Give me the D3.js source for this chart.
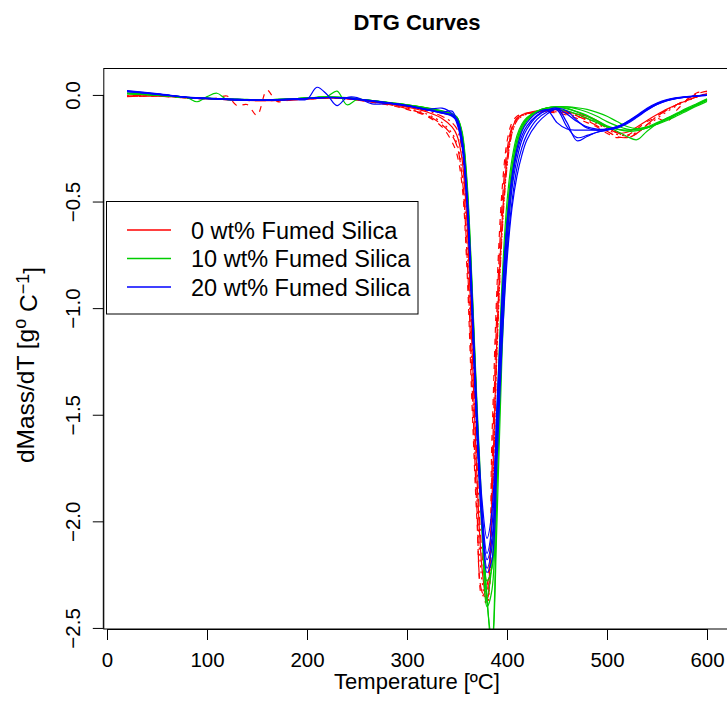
<!DOCTYPE html>
<html>
<head>
<meta charset="utf-8">
<script src="https://d3js.org/d3.v7.min.js"></script>
<style>
body { margin: 0; background: #fff; }
text { font-family: "Liberation Sans", Arial, Helvetica, sans-serif; fill: #000; }
</style>
</head>
<body>
<div id="dtg"></div>
<script>
// temperature grid shared by every run [deg C]
var temps = [20, 50, 80, 90, 100, 110, 120, 130, 140, 150,
    160, 170, 185, 200, 210, 220, 230, 240, 250, 265,
    285, 300, 320, 335, 345, 350, 355, 360, 365, 370,
    375, 380, 385, 390, 395, 400, 405, 410, 415, 420,
    430, 440, 450, 460, 470, 480, 490, 500, 510, 520,
    530, 540, 550, 560, 570, 580, 590, 600];

// 0 wt% fumed silica
var red1 = [-0.005, -0.005, -0.014, -0.016, -0.018, -0.020, -0.022, -0.024, -0.026, -0.027,
    -0.027, -0.026, -0.023, -0.019, -0.016, -0.014, -0.015, -0.018, -0.023, -0.032,
    -0.045, -0.057, -0.080, -0.110, -0.150, -0.190, -0.30, -0.60, -1.18, -1.80,
    -2.22, -2.38, -1.90, -1.12, -0.60, -0.30, -0.16, -0.11, -0.093, -0.085,
    -0.075, -0.070, -0.070, -0.078, -0.090, -0.10, -0.12, -0.15, -0.178, -0.175,
    -0.15, -0.12, -0.092, -0.066, -0.045, -0.026, -0.008, 0.006];
var red2 = [-0.008, -0.006, -0.015, -0.017, -0.019, -0.015, -0.005, -0.050, -0.045, -0.095,
    0.022, -0.030, -0.022, -0.020, -0.017, -0.015, -0.016, -0.019, -0.024, -0.034,
    -0.050, -0.068, -0.10, -0.15, -0.22, -0.28, -0.42, -0.82, -1.45, -2.00,
    -2.35, -2.30, -1.60, -0.90, -0.45, -0.22, -0.13, -0.10, -0.09, -0.085,
    -0.08, -0.08, -0.085, -0.095, -0.11, -0.13, -0.15, -0.18, -0.20, -0.19,
    -0.16, -0.125, -0.11, -0.125, -0.07, -0.025, 0.010, 0.015];
var red3 = [-0.006, -0.004, -0.013, -0.015, -0.017, -0.019, -0.021, -0.023, -0.025, -0.026,
    -0.026, -0.025, -0.022, -0.018, -0.015, -0.013, -0.014, -0.017, -0.022, -0.031,
    -0.046, -0.062, -0.09, -0.13, -0.18, -0.23, -0.36, -0.70, -1.30, -1.90,
    -2.28, -2.40, -1.95, -1.20, -0.65, -0.33, -0.18, -0.12, -0.10, -0.09,
    -0.082, -0.078, -0.08, -0.088, -0.10, -0.115, -0.135, -0.16, -0.185, -0.19,
    -0.175, -0.145, -0.11, -0.078, -0.05, -0.028, -0.010, 0.004];
var red4 = [-0.004, -0.003, -0.012, -0.014, -0.016, -0.018, -0.020, -0.022, -0.024, -0.025,
    -0.025, -0.024, -0.021, -0.017, -0.014, -0.012, -0.013, -0.016, -0.021, -0.030,
    -0.043, -0.055, -0.075, -0.10, -0.13, -0.16, -0.26, -0.55, -1.10, -1.72,
    -2.15, -2.32, -1.95, -1.20, -0.66, -0.34, -0.18, -0.12, -0.098, -0.088,
    -0.078, -0.072, -0.074, -0.082, -0.095, -0.11, -0.13, -0.155, -0.175, -0.20,
    -0.18, -0.14, -0.10, -0.07, -0.045, -0.025, -0.008, 0.008];
var red5 = [-0.007, -0.005, -0.014, -0.016, -0.018, -0.020, -0.022, -0.024, -0.026, -0.027,
    -0.027, -0.026, -0.023, -0.019, -0.016, -0.014, -0.015, -0.018, -0.023, -0.033,
    -0.048, -0.065, -0.095, -0.14, -0.19, -0.24, -0.38, -0.75, -1.35, -1.95,
    -2.33, -2.36, -1.75, -1.00, -0.52, -0.26, -0.15, -0.11, -0.095, -0.088,
    -0.08, -0.076, -0.078, -0.085, -0.098, -0.12, -0.145, -0.17, -0.195, -0.20,
    -0.18, -0.14, -0.10, -0.07, -0.045, -0.02, 0.005, 0.018];

// 10 wt% fumed silica
var green1 = [0.008, 0.000, -0.013, -0.032, -0.008, 0.008, -0.022, -0.022, -0.023, -0.024,
    -0.024, -0.022, -0.019, -0.015, -0.012, -0.010, -0.011, -0.014, -0.019, -0.027,
    -0.038, -0.047, -0.062, -0.078, -0.092, -0.108, -0.18, -0.42, -0.90, -1.48,
    -2.00, -2.35, -2.62, -2.00, -1.22, -0.72, -0.42, -0.25, -0.165, -0.12,
    -0.08, -0.062, -0.055, -0.056, -0.065, -0.08, -0.10, -0.125, -0.145, -0.16,
    -0.165, -0.155, -0.135, -0.112, -0.09, -0.068, -0.045, -0.022];
var green2 = [0.006, -0.001, -0.012, -0.014, -0.016, -0.018, -0.019, -0.021, -0.022, -0.023,
    -0.023, -0.021, -0.018, -0.014, -0.011, -0.008, 0.018, -0.046, -0.022, -0.028,
    -0.038, -0.047, -0.062, -0.076, -0.090, -0.105, -0.17, -0.40, -0.88, -1.45,
    -1.95, -2.38, -2.55, -1.85, -1.15, -0.65, -0.38, -0.23, -0.155, -0.115,
    -0.078, -0.060, -0.056, -0.062, -0.080, -0.10, -0.125, -0.15, -0.17, -0.195,
    -0.21, -0.17, -0.135, -0.11, -0.088, -0.066, -0.044, -0.020];
var green3 = [0.005, -0.002, -0.013, -0.015, -0.017, -0.019, -0.020, -0.022, -0.023, -0.024,
    -0.024, -0.022, -0.019, -0.015, -0.012, -0.010, -0.011, -0.014, -0.019, -0.027,
    -0.038, -0.048, -0.063, -0.079, -0.093, -0.110, -0.19, -0.45, -0.95, -1.52,
    -2.02, -2.40, -2.32, -1.65, -1.00, -0.58, -0.34, -0.21, -0.145, -0.11,
    -0.078, -0.068, -0.068, -0.075, -0.090, -0.11, -0.13, -0.15, -0.16, -0.165,
    -0.16, -0.15, -0.13, -0.108, -0.085, -0.062, -0.040, -0.018];
var green4 = [0.007, 0.000, -0.012, -0.014, -0.016, -0.018, -0.020, -0.021, -0.022, -0.023,
    -0.023, -0.022, -0.019, -0.015, -0.012, -0.010, -0.011, -0.014, -0.019, -0.027,
    -0.039, -0.048, -0.064, -0.080, -0.094, -0.110, -0.20, -0.48, -0.98, -1.56,
    -2.05, -2.35, -2.20, -1.50, -0.88, -0.50, -0.30, -0.19, -0.135, -0.105,
    -0.075, -0.062, -0.060, -0.065, -0.078, -0.095, -0.12, -0.145, -0.16, -0.17,
    -0.168, -0.155, -0.135, -0.115, -0.092, -0.070, -0.047, -0.025];
var green5 = [0.009, 0.001, -0.011, -0.013, -0.015, -0.017, -0.019, -0.020, -0.021, -0.022,
    -0.022, -0.021, -0.018, -0.014, -0.011, -0.009, -0.010, -0.013, -0.018, -0.026,
    -0.037, -0.046, -0.061, -0.075, -0.088, -0.104, -0.18, -0.44, -0.93, -1.50,
    -1.98, -2.28, -2.22, -1.60, -0.98, -0.57, -0.34, -0.21, -0.145, -0.11,
    -0.077, -0.061, -0.056, -0.056, -0.060, -0.068, -0.082, -0.10, -0.125, -0.148,
    -0.158, -0.152, -0.138, -0.12, -0.098, -0.075, -0.052, -0.030];

// 20 wt% fumed silica
var blue1 = [0.018, 0.005, -0.012, -0.015, -0.017, -0.019, -0.021, -0.023, -0.024, -0.025,
    -0.025, -0.024, -0.021, -0.020, 0.036, 0.002, -0.050, -0.012, -0.012, -0.042,
    -0.040, -0.050, -0.068, -0.062, -0.088, -0.135, -0.24, -0.52, -1.02, -1.58,
    -1.98, -2.22, -2.12, -1.62, -1.08, -0.68, -0.44, -0.30, -0.21, -0.16,
    -0.10, -0.072, -0.062, -0.13, -0.215, -0.195, -0.175, -0.165, -0.155, -0.135,
    -0.105, -0.072, -0.045, -0.027, -0.016, -0.009, -0.005, -0.002];
var blue2 = [0.015, 0.003, -0.011, -0.014, -0.016, -0.018, -0.020, -0.022, -0.024, -0.025,
    -0.024, -0.022, -0.019, -0.016, -0.013, -0.012, -0.013, -0.016, -0.021, -0.029,
    -0.041, -0.051, -0.070, -0.086, -0.100, -0.125, -0.22, -0.48, -0.98, -1.55,
    -1.95, -2.15, -2.02, -1.50, -0.98, -0.62, -0.40, -0.27, -0.19, -0.145,
    -0.095, -0.070, -0.070, -0.15, -0.20, -0.19, -0.175, -0.165, -0.15, -0.125,
    -0.095, -0.062, -0.038, -0.022, -0.013, -0.008, -0.004, -0.001];
var blue3 = [0.020, 0.006, -0.010, -0.013, -0.015, -0.017, -0.019, -0.020, -0.022, -0.023,
    -0.023, -0.022, -0.020, -0.017, -0.014, -0.012, -0.012, -0.014, -0.019, -0.027,
    -0.039, -0.049, -0.067, -0.083, -0.094, -0.112, -0.20, -0.45, -0.92, -1.48,
    -1.90, -2.08, -1.95, -1.45, -0.95, -0.60, -0.38, -0.25, -0.17, -0.13,
    -0.085, -0.070, -0.13, -0.16, -0.165, -0.165, -0.165, -0.163, -0.155, -0.13,
    -0.10, -0.068, -0.042, -0.025, -0.015, -0.009, -0.005, -0.002];
var blue4 = [0.016, 0.004, -0.011, -0.014, -0.016, -0.018, -0.020, -0.022, -0.023, -0.024,
    -0.024, -0.023, -0.020, -0.016, -0.014, -0.012, -0.013, -0.015, -0.020, -0.028,
    -0.040, -0.050, -0.069, -0.085, -0.097, -0.116, -0.21, -0.50, -1.00, -1.56,
    -1.97, -2.18, -2.08, -1.60, -1.10, -0.74, -0.50, -0.34, -0.245, -0.185,
    -0.115, -0.08, -0.066, -0.09, -0.125, -0.15, -0.16, -0.16, -0.15, -0.13,
    -0.10, -0.07, -0.045, -0.027, -0.016, -0.010, -0.005, -0.002];
var blue5 = [0.017, 0.004, -0.012, -0.016, -0.018, -0.020, -0.022, -0.024, -0.025, -0.026,
    -0.026, -0.025, -0.022, -0.018, -0.015, -0.013, -0.013, -0.016, -0.021, -0.030,
    -0.042, -0.052, -0.070, -0.080, -0.076, -0.125, -0.23, -0.50, -1.00, -1.60,
    -2.02, -2.24, -2.18, -1.72, -1.18, -0.78, -0.53, -0.38, -0.28, -0.21,
    -0.135, -0.09, -0.064, -0.075, -0.12, -0.155, -0.165, -0.16, -0.148, -0.128,
    -0.098, -0.066, -0.040, -0.024, -0.014, -0.008, -0.004, -0.001];

var xTicks = [0, 100, 200, 300, 400, 500, 600];
var yTicks = [0, -0.5, -1, -1.5, -2, -2.5];
var legendLabels = ["0 wt% Fumed Silica", "10 wt% Fumed Silica", "20 wt% Fumed Silica"];
var groupColors = ["#FF0000", "#00CD00", "#0000FF"];

var groups = [
    { color: groupColors[0], runs: [red1, red2, red3, red4, red5], dash: [null, "6,6", "2,4", "2,4,8,4", "11,5"] },
    { color: groupColors[1], runs: [green1, green2, green3, green4, green5], dash: [null, null, null, null, null] },
    { color: groupColors[2], runs: [blue1, blue2, blue3, blue4, blue5], dash: [null, null, null, null, null] }
];

var width = 727, height = 720;
var plotLeft = 103.8, plotRight = 730.2, plotTop = 68.5, plotBottom = 629;

var svg = d3.select("#dtg")
    .append("svg")
    .attr("width", width)
    .attr("height", height);

// R style: 4% padding around the temperature range
var tRange = d3.extent(temps);
var pad = (tRange[1] - tRange[0]) * 0.04;
var x = d3.scaleLinear()
    .domain([tRange[0] - pad, tRange[1] + pad])
    .range([plotLeft, plotRight]);

var y = d3.scaleLinear()
    .domain([-2.505, 0.124])
    .range([plotBottom, plotTop]);

svg.append("clipPath")
    .attr("id", "plotclip")
    .append("rect")
    .attr("x", plotLeft)
    .attr("y", plotTop)
    .attr("width", plotRight - plotLeft)
    .attr("height", plotBottom - plotTop);

var line = d3.line()
    .x(function (d) { return x(d[0]); })
    .y(function (d) { return y(d[1]); })
    .curve(d3.curveCatmullRom.alpha(0.5));

var curves = svg.append("g").attr("clip-path", "url(#plotclip)");

groups.forEach(function (g) {
    g.runs.forEach(function (vals, i) {
        var pts = temps.map(function (t, k) { return [t, vals[k]]; });
        curves.append("path")
            .datum(pts)
            .attr("d", line)
            .attr("fill", "none")
            .attr("stroke", g.color)
            .attr("stroke-width", 1.2)
            .attr("stroke-dasharray", g.dash[i]);
    });
});

// box
svg.append("rect")
    .attr("x", plotLeft)
    .attr("y", plotTop)
    .attr("width", plotRight - plotLeft)
    .attr("height", plotBottom - plotTop)
    .attr("fill", "none")
    .attr("stroke", "#000")
    .attr("stroke-width", 1);

// x axis
var xAxis = svg.append("g")
    .attr("transform", "translate(0," + plotBottom + ")")
    .call(d3.axisBottom(x).tickValues(xTicks).tickSize(11).tickSizeOuter(0).tickPadding(12)
        .tickFormat(d3.format("d")));
xAxis.select(".domain").attr("d", "M" + x(xTicks[0]) + ",0.5H" + x(xTicks[xTicks.length - 1]));
xAxis.selectAll("text").style("font-size", "20.5px").attr("font-family", null);
xAxis.selectAll("line, path").attr("stroke", "#000");

// y axis
var yAxis = svg.append("g")
    .attr("transform", "translate(" + plotLeft + ",0)")
    .call(d3.axisLeft(y).tickValues(yTicks).tickSize(11).tickSizeOuter(0)
        .tickFormat(d3.format(".1f")));
yAxis.select(".domain").attr("d", "M-0.5," + y(yTicks[0]) + "V" + y(yTicks[yTicks.length - 1]));
yAxis.selectAll("text")
    .attr("x", null)
    .attr("dy", null)
    .attr("text-anchor", "middle")
    .attr("transform", "translate(-24,0) rotate(-90)")
    .style("font-size", "20.5px");
yAxis.selectAll("line, path").attr("stroke", "#000");

// titles
svg.append("text")
    .attr("x", (plotLeft + plotRight) / 2)
    .attr("y", 30)
    .attr("text-anchor", "middle")
    .style("font-size", "22px")
    .style("font-weight", "bold")
    .text("DTG Curves");

svg.append("text")
    .attr("x", (plotLeft + plotRight) / 2)
    .attr("y", 689)
    .attr("text-anchor", "middle")
    .style("font-size", "22px")
    .text("Temperature [ºC]");

var ylab = svg.append("text")
    .attr("transform", "translate(34,365) rotate(-90)")
    .attr("text-anchor", "middle")
    .style("font-size", "24.5px");
ylab.append("tspan").text("dMass/dT [g");
ylab.append("tspan").attr("dy", "-0.45em").style("font-size", "18px").text("o");
ylab.append("tspan").attr("dy", "0.45em").text(" C");
ylab.append("tspan").attr("dy", "-0.45em").style("font-size", "18px").text("\u22121");
ylab.append("tspan").attr("dy", "0.45em").text("]");

// legend
var legend = svg.append("g");
legend.append("rect")
    .attr("x", 106.5)
    .attr("y", 201.5)
    .attr("width", 311.5)
    .attr("height", 112.5)
    .attr("fill", "#fff")
    .attr("stroke", "#000");

var rows = legend.selectAll("g.row")
    .data(legendLabels)
    .enter()
    .append("g")
    .attr("class", "row")
    .attr("transform", function (d, i) { return "translate(0," + (230 + i * 28.5) + ")"; });
rows.append("line")
    .attr("x1", 127).attr("x2", 171)
    .attr("stroke", function (d, i) { return groupColors[i]; })
    .attr("stroke-width", 1.5);
rows.append("text")
    .attr("x", 191)
    .attr("y", 8.5)
    .style("font-size", "23.5px")
    .text(function (d) { return d; });
</script>
</body>
</html>
